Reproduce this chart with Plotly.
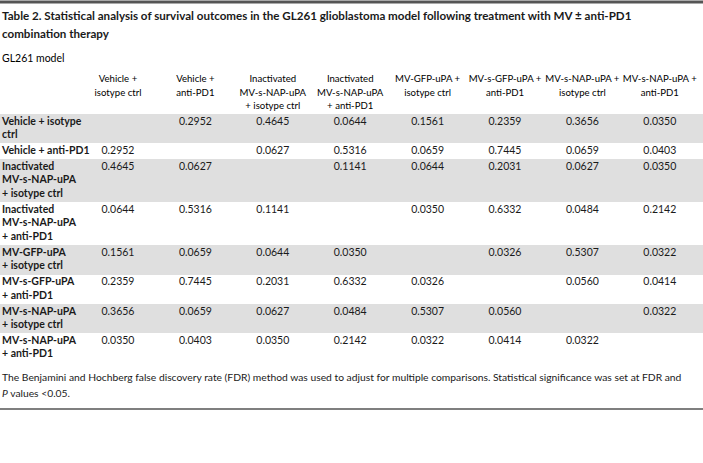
import plotly.graph_objects as go

W, H = 703, 463

title_lines = [
    "Table 2. Statistical analysis of survival outcomes in the GL261 glioblastoma model following treatment with MV ± anti-PD1",
    "combination therapy",
]
subtitle_text = "GL261 model"
footnote_lines = [
    "The Benjamini and Hochberg false discovery rate (FDR) method was used to adjust for multiple comparisons. "
    "Statistical significance was set at FDR and",
    "<i>P</i> values &lt;0.05.",
]

col_headers = [
    "Vehicle +<br>isotype ctrl",
    "Vehicle +<br>anti-PD1",
    "Inactivated<br>MV-s-NAP-uPA<br>+ isotype ctrl",
    "Inactivated<br>MV-s-NAP-uPA<br>+ anti-PD1",
    "MV-GFP-uPA +<br>isotype ctrl",
    "MV-s-GFP-uPA +<br>anti-PD1",
    "MV-s-NAP-uPA +<br>isotype ctrl",
    "MV-s-NAP-uPA +<br>anti-PD1",
]

row_labels = [
    "Vehicle + isotype<br>ctrl",
    "Vehicle + anti-PD1",
    "Inactivated<br>MV-s-NAP-uPA<br>+ isotype ctrl",
    "Inactivated<br>MV-s-NAP-uPA<br>+ anti-PD1",
    "MV-GFP-uPA<br>+ isotype ctrl",
    "MV-s-GFP-uPA<br>+ anti-PD1",
    "MV-s-NAP-uPA<br>+ isotype ctrl",
    "MV-s-NAP-uPA<br>+ anti-PD1",
]

# FDR-adjusted P values, rows x columns; diagonal empty
p_values = [
    [None, 0.2952, 0.4645, 0.0644, 0.1561, 0.2359, 0.3656, 0.0350],
    [0.2952, None, 0.0627, 0.5316, 0.0659, 0.7445, 0.0659, 0.0403],
    [0.4645, 0.0627, None, 0.1141, 0.0644, 0.2031, 0.0627, 0.0350],
    [0.0644, 0.5316, 0.1141, None, 0.0350, 0.6332, 0.0484, 0.2142],
    [0.1561, 0.0659, 0.0644, 0.0350, None, 0.0326, 0.5307, 0.0322],
    [0.2359, 0.7445, 0.2031, 0.6332, 0.0326, None, 0.0560, 0.0414],
    [0.3656, 0.0659, 0.0627, 0.0484, 0.5307, 0.0560, None, 0.0322],
    [0.0350, 0.0403, 0.0350, 0.2142, 0.0322, 0.0414, 0.0322, None],
]

# ---- styling / layout constants (pixel space) ----
FONT = "Lato, Roboto, Liberation Sans, sans-serif"
GRAY = "#dfdfdf"
TXT = "#1a1a1a"
RULE = "#555555"
LINE = 13.5          # line step
PAD = 2.4            # extra row padding
TABLE_TOP = 114
HEADER_FIRST = 80
LABEL_X = 2
COL_X0, COL_DX = 118, 77.4

n_rows = len(row_labels)
lines_per_row = [len(row_labels[i].split("<br>")) for i in range(n_rows)]
row_h = [PAD + LINE * n for n in lines_per_row]
row_top = []
t = TABLE_TOP
for h in row_h:
    row_top.append(t)
    t += h
col_x = [COL_X0 + COL_DX * j for j in range(len(col_headers))]

fig = go.Figure()

# row background fills (horizontal bars in pixel-space axes)
gray_rows = [i for i in range(n_rows) if i % 2 == 0]
fig.add_trace(go.Bar(
    orientation="h",
    y=[row_top[i] + row_h[i] / 2 for i in gray_rows],
    x=[W] * len(gray_rows),
    base=0,
    width=[row_h[i] for i in gray_rows],
    marker=dict(color=GRAY, line=dict(width=0)),
    hoverinfo="skip",
    showlegend=False,
))

# horizontal rules (top and bottom of the table block)
for yv, lw in [(2, 3), (409, 1.5)]:
    fig.add_trace(go.Scatter(
        x=[0, W], y=[yv, yv], mode="lines",
        line=dict(color=RULE, width=lw),
        hoverinfo="skip", showlegend=False, cliponaxis=False,
    ))


def add_text(points, align, size, bold=False, color=TXT):
    xs, ys, ts = [], [], []
    for x, y0, text in points:
        for k, ln in enumerate(text.split("<br>")):
            xs.append(x)
            ys.append(y0 + LINE * k)
            ts.append(("<b>" + ln + "</b>") if bold else ln)
    fig.add_trace(go.Scatter(
        x=xs, y=ys, text=ts, mode="text",
        textposition="middle right" if align == "left" else "middle center",
        textfont=dict(family=FONT, size=size, color=color),
        hoverinfo="skip", showlegend=False, cliponaxis=False,
    ))


# header
add_text([(col_x[j], HEADER_FIRST, col_headers[j]) for j in range(len(col_headers))],
         "center", 9.6, color="#000000")
# row labels
add_text([(LABEL_X, row_top[i] + 8, row_labels[i]) for i in range(n_rows)],
         "left", 10.5, bold=True)
# values
vals = []
for i in range(n_rows):
    for j in range(len(col_headers)):
        v = p_values[i][j]
        if v is not None:
            vals.append((col_x[j], row_top[i] + 8, f"{v:.4f}"))
add_text(vals, "center", 10.5)

# title, subtitle, footnote
for k, ln in enumerate(title_lines):
    fig.add_annotation(x=0, y=15 + 18 * k, xref="x", yref="y", xanchor="left", yanchor="middle",
                       text="<b>" + ln + "</b>", showarrow=False,
                       font=dict(family=FONT, size=11.6, color=TXT))
fig.add_annotation(x=0, y=58, xref="x", yref="y", xanchor="left", yanchor="middle",
                   text=subtitle_text, showarrow=False,
                   font=dict(family=FONT, size=10.5, color="#000000"))
for k, ln in enumerate(footnote_lines):
    fig.add_annotation(x=0, y=377 + 15.5 * k, xref="x", yref="y", xanchor="left", yanchor="middle",
                       text=ln, showarrow=False,
                       font=dict(family=FONT, size=10.3, color=TXT))

fig.update_layout(
    width=W, height=H, margin=dict(l=0, r=0, t=0, b=0),
    paper_bgcolor="white", plot_bgcolor="white",
    xaxis=dict(range=[0, W], visible=False, fixedrange=True),
    yaxis=dict(range=[H, 0], visible=False, fixedrange=True),
    bargap=0,
)

fig.write_html("out.html", config={"displayModeBar": False},
               post_script="document.body.style.margin='0px';")
